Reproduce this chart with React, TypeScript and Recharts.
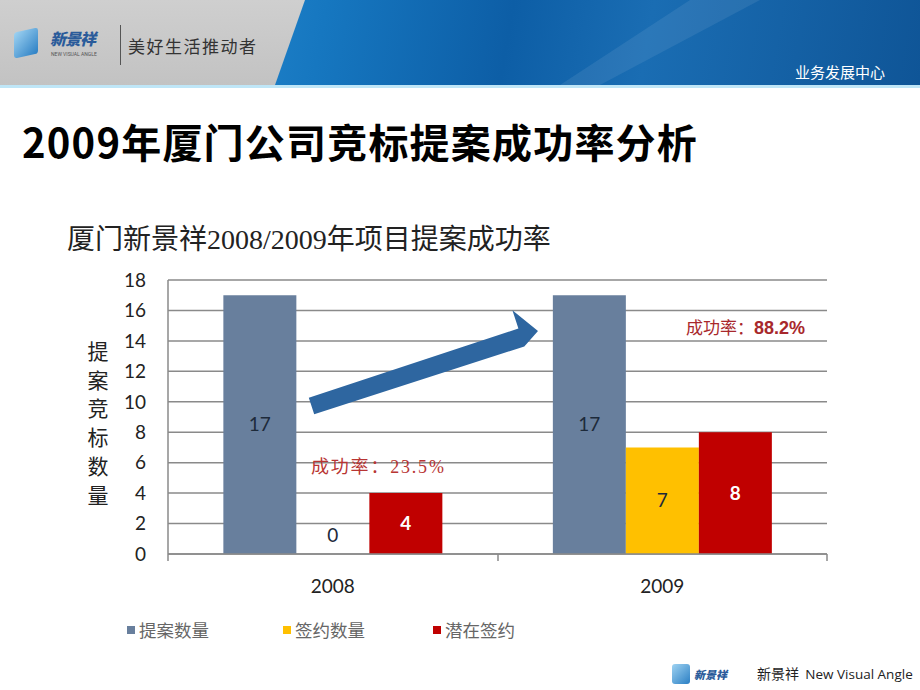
import React from 'react'
import { BarChart, Bar, XAxis, YAxis, CartesianGrid, LabelList } from 'recharts'

const years = ['2008', '2009']
const proposals = [17, 17]
const signed = [0, 7]
const potential = [4, 8]
const seriesNames = ['提案数量', '签约数量', '潜在签约']
const seriesColors = ['#687f9d', '#ffc000', '#c00000']
const labelColors = ['#1d2a3a', '#1d2a3a', '#ffffff']
const yTicks = [0, 2, 4, 6, 8, 10, 12, 14, 16, 18]
const rates = ['23.5%', '88.2%']

const data = years.map((year, i) => ({
  year,
  proposals: proposals[i],
  signed: signed[i],
  potential: potential[i],
}))

const keys = ['proposals', 'signed', 'potential']
const tickFont = 'Lato, "Open Sans", "Noto Sans CJK SC", sans-serif'
const serifCjk = '"Liberation Serif", "Noto Sans CJK SC", serif'

const makeLabel = (color: string) => (props: any) => {
  const { x, y, width, height, value } = props
  const cy = Number(value) === 0 ? y + height - 19 : y + height / 2
  return (
    <text
      x={x + width / 2}
      y={cy}
      dy="0.35em"
      textAnchor="middle"
      fill={color}
      fontSize={19}
      fontFamily={tickFont}
      fontWeight={color === '#ffffff' ? 700 : 400}
    >
      {value}
    </text>
  )
}

function Header() {
  return (
    <div style={{ position: 'absolute', left: 0, top: 0, width: 920, height: 88 }}>
      <div style={{ position: 'absolute', inset: 0, background: 'linear-gradient(180deg,#cfcfcf,#c2c2c2)' }} />
      <div
        style={{
          position: 'absolute',
          left: 0,
          top: 0,
          width: 920,
          height: 85,
          clipPath: 'polygon(305px 0, 920px 0, 920px 85px, 275px 85px)',
          background:
            'linear-gradient(100deg,#3a9ee0 0%,#1677c0 35%,#0d5ea6 55%,#1a6db3 70%,#0f5597 100%)',
        }}
      />
      <div
        style={{
          position: 'absolute',
          left: 0,
          top: 0,
          width: 920,
          height: 85,
          clipPath: 'polygon(690px 0, 760px 0, 600px 85px, 560px 85px)',
          background: 'rgba(255,255,255,0.08)',
        }}
      />
      <div style={{ position: 'absolute', left: 0, top: 85, width: 920, height: 3, background: '#bfe6f7' }} />
      {/* logo */}
      <div
        style={{
          position: 'absolute',
          left: 14,
          top: 30,
          width: 24,
          height: 26,
          background: 'linear-gradient(135deg,#9fd3f2,#2b7fc4)',
          transform: 'skewY(-12deg)',
          borderRadius: 3,
        }}
      />
      <div
        style={{
          position: 'absolute',
          left: 50,
          top: 28,
          fontFamily: '"Noto Sans CJK SC", sans-serif',
          fontWeight: 900,
          fontStyle: 'italic',
          fontSize: 16,
          lineHeight: '20px',
          color: '#2a5b9a',
          letterSpacing: -1,
        }}
      >
        新景祥
      </div>
      <div
        style={{
          position: 'absolute',
          left: 51,
          top: 51,
          fontFamily: 'Roboto, sans-serif',
          fontSize: 5,
          lineHeight: '6px',
          color: '#555',
        }}
      >
        NEW VISUAL ANGLE
      </div>
      <div style={{ position: 'absolute', left: 120, top: 25, width: 1, height: 40, background: '#555' }} />
      <div
        style={{
          position: 'absolute',
          left: 128,
          top: 33,
          fontFamily: '"Noto Sans CJK SC", sans-serif',
          fontSize: 17,
          color: '#333',
          letterSpacing: 1.5,
        }}
      >
        美好生活推动者
      </div>
      <div
        style={{
          position: 'absolute',
          left: 795,
          top: 61,
          fontFamily: '"Noto Sans CJK SC", sans-serif',
          fontSize: 15,
          color: '#ffffff',
        }}
      >
        业务发展中心
      </div>
    </div>
  )
}

export default function App() {
  return (
    <div
      style={{
        position: 'absolute',
        left: 0,
        top: 0,
        width: 920,
        height: 690,
        overflow: 'hidden',
        background: '#ffffff',
      }}
    >
      <Header />
      <div
        style={{
          position: 'absolute',
          left: 22,
          top: 112,
          fontFamily: '"Noto Sans CJK SC", sans-serif',
          fontWeight: 700,
          fontSize: 40,
          color: '#000',
          letterSpacing: 1.2,
          whiteSpace: 'nowrap',
        }}
      >
        2009年厦门公司竞标提案成功率分析
      </div>
      <div
        style={{
          position: 'absolute',
          left: 67,
          top: 217,
          fontFamily: serifCjk,
          fontSize: 28,
          color: '#222',
          whiteSpace: 'nowrap',
        }}
      >
        厦门新景祥2008/2009年项目提案成功率
      </div>

      <div style={{ position: 'absolute', left: 0, top: 0 }}>
        <BarChart
          width={920}
          height={690}
          data={data}
          margin={{ top: 280, right: 93, bottom: 96, left: 108 }}
          barCategoryGap="16.8%"
          barGap={0}
        >
          <CartesianGrid vertical={false} stroke="#8a8a8a" strokeWidth={1.5} />
          <XAxis
            dataKey="year"
            height={40}
            stroke="#8a8a8a"
            strokeWidth={1.5}
            tickLine={false}
            tickSize={6}
            tickMargin={20}
            tick={{ fill: '#222', fontSize: 19, fontFamily: tickFont }}
          />
          <YAxis
            width={60}
            domain={[0, 18]}
            ticks={yTicks}
            interval={0}
            stroke="#8a8a8a"
            strokeWidth={1.5}
            tickLine={false}
            tickSize={0}
            tickMargin={22}
            tick={{ fill: '#222', fontSize: 19, fontFamily: tickFont }}
          />
          {keys.map((k, i) => (
            <Bar
              key={k}
              dataKey={k}
              name={seriesNames[i]}
              fill={seriesColors[i]}
              minPointSize={(v: number) => (v === 0 ? 0.01 : 0)}
              isAnimationActive={false}
            >
              <LabelList dataKey={k} content={makeLabel(labelColors[i])} />
            </Bar>
          ))}
        </BarChart>
      </div>

      {/* category boundary tick marks and arrow */}
      <svg style={{ position: 'absolute', left: 0, top: 0 }} width={920} height={690}>
        {[168, 498, 827].map((x) => (
          <line key={x} x1={x} x2={x} y1={554} y2={561} stroke="#8a8a8a" strokeWidth={1.5} />
        ))}
        <polygon
          points="308.8,397.7 518.4,328.5 512.4,310.3 538,331 524.3,346.4 518.4,328.5 518.4,328.5 524.3,346.4 314.2,414.3"
          fill="#2e66a0"
        />
      </svg>

      {/* vertical axis title */}
      <div
        style={{
          position: 'absolute',
          left: 87,
          top: 338,
          width: 22,
          fontFamily: serifCjk,
          fontSize: 21,
          lineHeight: '28.7px',
          color: '#222',
          textAlign: 'center',
        }}
      >
        {'提案竞标数量'.split('').map((c, i) => (
          <div key={i}>{c}</div>
        ))}
      </div>

      {/* success-rate annotations */}
      <div
        style={{
          position: 'absolute',
          left: 311,
          top: 452,
          fontFamily: serifCjk,
          fontSize: 18,
          letterSpacing: 1.8,
          color: '#b83533',
          whiteSpace: 'nowrap',
        }}
      >
        成功率：{rates[0]}
      </div>
      <div
        style={{
          position: 'absolute',
          left: 686,
          top: 314,
          fontFamily: serifCjk,
          fontSize: 17,
          color: '#a8282c',
          whiteSpace: 'nowrap',
        }}
      >
        成功率：
        <span style={{ fontFamily: 'Arial, "Liberation Sans", sans-serif', fontWeight: 700, fontSize: 18 }}>
          {rates[1]}
        </span>
      </div>

      {/* legend */}
      {seriesNames.map((name, i) => (
        <div
          key={name}
          style={{
            position: 'absolute',
            left: [127, 283, 433][i],
            top: 617,
            display: 'flex',
            alignItems: 'center',
            fontFamily: serifCjk,
            fontSize: 17.5,
            color: '#666',
            whiteSpace: 'nowrap',
          }}
        >
          <span style={{ width: 8, height: 8, background: seriesColors[i], marginRight: 4, display: 'inline-block' }} />
          {name}
        </div>
      ))}

      {/* footer */}
      <div
        style={{
          position: 'absolute',
          left: 672,
          top: 664,
          width: 18,
          height: 20,
          background: 'linear-gradient(135deg,#9fd3f2,#2b7fc4)',
          borderRadius: 3,
        }}
      />
      <div
        style={{
          position: 'absolute',
          left: 694,
          top: 666,
          fontFamily: '"Noto Sans CJK SC", sans-serif',
          fontWeight: 900,
          fontStyle: 'italic',
          fontSize: 11,
          color: '#2a5b9a',
        }}
      >
        新景祥
      </div>
      <div
        style={{
          position: 'absolute',
          left: 757,
          top: 663,
          fontFamily: '"Noto Sans CJK SC", "Open Sans", sans-serif',
          fontSize: 14,
          color: '#222',
          whiteSpace: 'nowrap',
        }}
      >
        新景祥&nbsp;&nbsp;<span style={{ fontFamily: '"Open Sans", sans-serif', fontSize: 13.5 }}>New Visual Angle</span>
      </div>
    </div>
  )
}
